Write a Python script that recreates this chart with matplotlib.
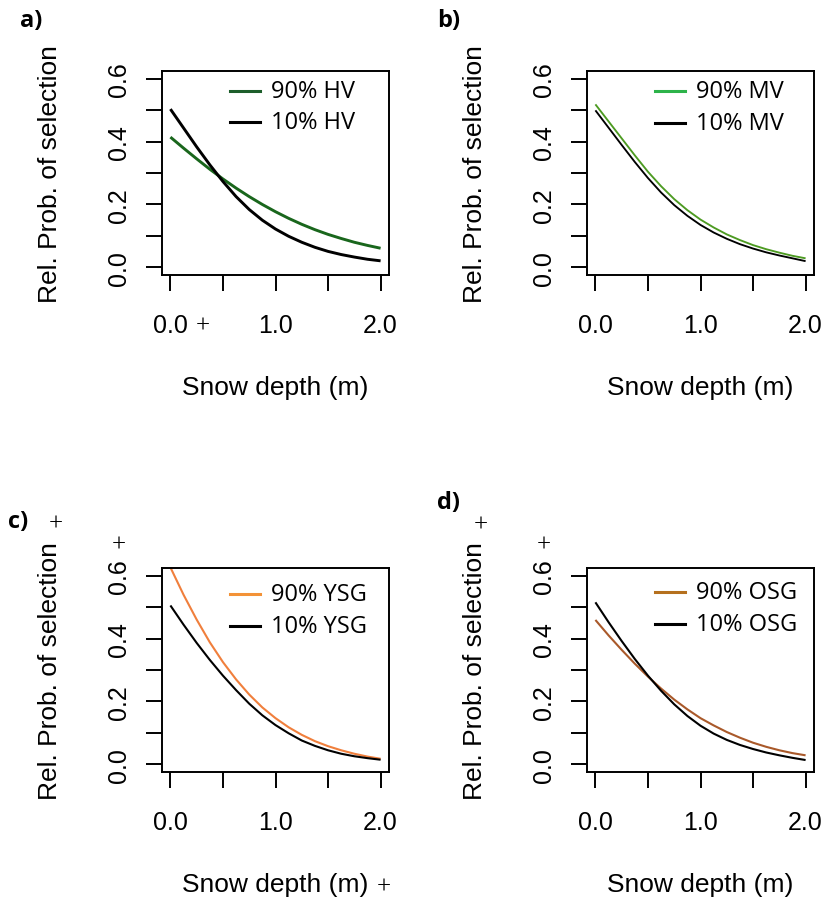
import matplotlib
matplotlib.use("Agg")
import matplotlib.pyplot as plt
from matplotlib.lines import Line2D

# ---------------- data ----------------
snow_depth = [0.0, 0.125, 0.25, 0.375, 0.5, 0.625, 0.75, 0.875, 1.0,
              1.125, 1.25, 1.375, 1.5, 1.625, 1.75, 1.875, 2.0]

hv_90 = [0.414, 0.379, 0.345, 0.312, 0.281, 0.252, 0.225, 0.200, 0.177,
         0.156, 0.137, 0.120, 0.105, 0.092, 0.080, 0.070, 0.061]
hv_10 = [0.503, 0.443, 0.383, 0.326, 0.273, 0.225, 0.184, 0.150, 0.122,
         0.099, 0.080, 0.064, 0.051, 0.041, 0.033, 0.026, 0.021]

mv_90 = [0.518, 0.464, 0.410, 0.356, 0.304, 0.258, 0.217, 0.182, 0.152,
         0.127, 0.105, 0.087, 0.071, 0.058, 0.047, 0.037, 0.029]
mv_10 = [0.499, 0.444, 0.389, 0.335, 0.284, 0.238, 0.198, 0.164, 0.135,
         0.111, 0.091, 0.074, 0.060, 0.048, 0.038, 0.029, 0.020]

ysg_90 = [0.626, 0.539, 0.460, 0.388, 0.325, 0.270, 0.222, 0.181, 0.147,
          0.118, 0.094, 0.074, 0.058, 0.045, 0.034, 0.025, 0.018]
ysg_10 = [0.505, 0.444, 0.386, 0.332, 0.282, 0.236, 0.193, 0.156, 0.125,
          0.099, 0.076, 0.059, 0.045, 0.034, 0.026, 0.020, 0.015]

osg_90 = [0.459, 0.410, 0.364, 0.320, 0.279, 0.241, 0.206, 0.175, 0.147,
          0.124, 0.103, 0.085, 0.069, 0.056, 0.045, 0.036, 0.029]
osg_10 = [0.515, 0.452, 0.392, 0.335, 0.282, 0.234, 0.191, 0.154, 0.123,
          0.098, 0.078, 0.062, 0.049, 0.038, 0.029, 0.021, 0.014]

panel_letters = ["a)", "b)", "c)", "d)"]
legend_labels = [["90% HV", "10% HV"], ["90% MV", "10% MV"],
                 ["90% YSG", "10% YSG"], ["90% OSG", "10% OSG"]]
series = [(hv_90, hv_10), (mv_90, mv_10), (ysg_90, ysg_10), (osg_90, osg_10)]

x_ticks = [0.0, 0.5, 1.0, 1.5, 2.0]
x_ticklabels = ["0.0", "", "1.0", "", "2.0"]
y_ticks = [0.0, 0.1, 0.2, 0.3, 0.4, 0.5, 0.6]
y_ticklabels = ["0.0", "", "0.2", "", "0.4", "", "0.6"]

xlabel = "Snow depth (m)"
ylabel = "Rel. Prob. of selection"

# ---------------- styling ----------------
curve_colors = ["#19661c", "#4d9b22", "#f07f3c", "#a9592a"]
legend_colors = ["#1d5e2b", "#2db34a", "#f39237", "#b5701e"]
curve_lw = [2.1, 1.35, 1.5, 1.5]

W, H = 825, 904
fig = plt.figure(figsize=(W / 100, H / 100), dpi=100)

def fx(px):
    return px / W

def fy(py):
    return 1 - py / H

# box (left, right, top, bottom) in pixels
boxes = [(162, 389, 72, 276), (587, 814, 72, 276),
         (162, 389, 569, 773), (587, 814, 569, 773)]
ylabel_x = [50, 475, 50, 475]
xlabel_y = [388, 388, 885, 885]
letter_pos = [(31, 21), (449, 21), (18, 522), (449, 503)]
legend_rows = [(92, 123), (92, 124), (595, 627), (593, 625)]

SANS = "Liberation Sans"
LEG = "Open Sans"

for i in range(4):
    l, r, t, b = boxes[i]
    ax = fig.add_axes([fx(l), fy(b), (r - l) / W, (b - t) / H])
    y90, y10 = series[i]
    ax.plot(snow_depth, y90, color=curve_colors[i], lw=curve_lw[i],
            solid_capstyle="butt", solid_joinstyle="round")
    ax.plot(snow_depth, y10, color="black", lw=curve_lw[i],
            solid_capstyle="butt", solid_joinstyle="round")
    ax.set_xlim(-0.08, 2.08)
    ax.set_ylim(-0.024, 0.624)
    ax.set_xticks(x_ticks)
    ax.set_xticklabels(x_ticklabels, fontsize=18, family=SANS)
    ax.set_yticks(y_ticks)
    ax.set_yticklabels(y_ticklabels, fontsize=18, family=SANS, rotation=90, va="center")
    ax.tick_params(axis="both", direction="out", length=11.5, width=1.4, colors="black")
    ax.tick_params(axis="x", pad=16)
    ax.tick_params(axis="y", pad=11)
    for sp in ax.spines.values():
        sp.set_linewidth(1.4)

    cx = (l + r) / 2
    cy = (t + b) / 2
    fig.text(fx(cx), fy(xlabel_y[i]), xlabel, fontsize=19, family=SANS,
             ha="center", va="center")
    fig.text(fx(ylabel_x[i]), fy(cy), ylabel, fontsize=19, family=SANS,
             ha="center", va="center", rotation=90)
    lx, ly = letter_pos[i]
    fig.text(fx(lx), fy(ly), panel_letters[i], fontsize=17, family=LEG,
             weight="bold", ha="center", va="center")

    # legend (no frame)
    r1, r2 = legend_rows[i]
    x0 = l + 68
    for row_y, lab, col in zip((r1, r2), legend_labels[i], (legend_colors[i], "black")):
        fig.add_artist(Line2D([fx(x0), fx(x0 + 30)], [fy(row_y), fy(row_y)],
                              color=col, lw=2.2, transform=fig.transFigure))
        fig.text(fx(x0 + 41), fy(row_y), lab, fontsize=17, family=LEG,
                 ha="left", va="center")

# stray "+" marks present in the reference
plus_pos = [(203, 327), (56, 525), (119, 546), (384, 888), (481, 526), (544, 546)]
for px, py in plus_pos:
    fig.text(fx(px), fy(py), "+", fontsize=18, family="Liberation Serif",
             ha="center", va="center")

fig.savefig("out.png", dpi=100)
